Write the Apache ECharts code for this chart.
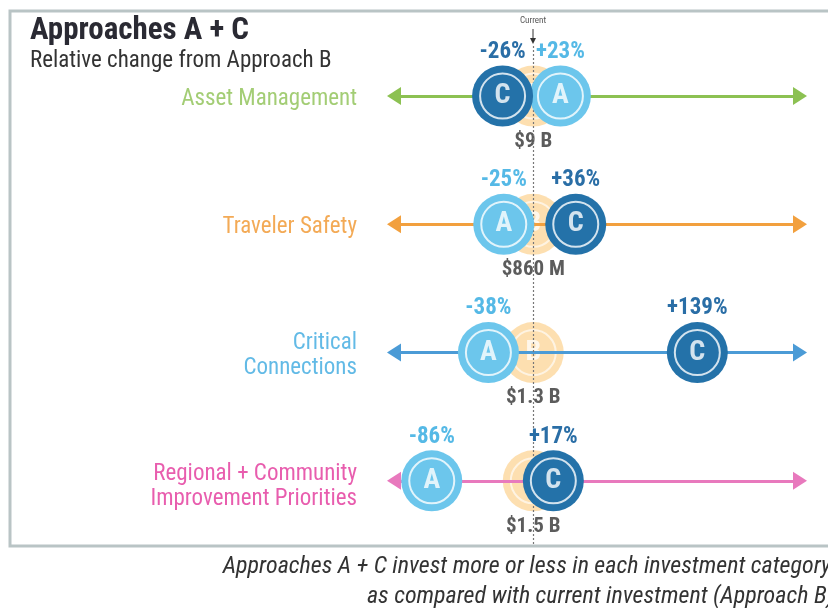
<!DOCTYPE html>
<html>
<head>
<meta charset="utf-8">
<script src="https://cdn.jsdelivr.net/npm/echarts@6/dist/echarts.min.js"></script>
<style>
  html, body { margin: 0; padding: 0; background: #fff; }
  #chart { width: 828px; height: 608px; }
</style>
</head>
<body>
<div id="chart"></div>
<script>
const categories = ["Asset Management", "Traveler Safety", "Critical\nConnections", "Regional + Community\nImprovement Priorities"];
const catColors = ["#8cc152", "#f0952c", "#3ba9e0", "#e2359a"];
const lineColors = ["#8cc152", "#f2a03e", "#4b9bd6", "#e879bd"];
const changeA = [23, -25, -38, -86];
const changeC = [-26, 36, 139, 17];
const currentB = ["$9 B", "$860 M", "$1.3 B", "$1.5 B"];
const arrowRange = [-118, 226];

const font = "'Roboto Condensed', 'Liberation Sans Narrow', 'Arial Narrow', Roboto, sans-serif";
const colA = "#6cc6ec", colC = "#2472a9", colB = "#fcd496";

let chart = echarts.init(document.getElementById("chart"), null, { renderer: "canvas" });

const pct = v => (v > 0 ? "+" : "") + v + "%";

function circles(name, values, fill, letter, labelColor, z) {
  return [{
    type: "scatter", name, z,
    data: values.map((v, i) => [v, i]),
    symbolSize: 61,
    itemStyle: { color: fill, opacity: 1 },
    label: {
      show: true, position: "top", distance: 2,
      formatter: p => pct(p.value[0]),
      color: labelColor, fontFamily: font, fontSize: 23, fontWeight: "bold"
    },
    silent: true
  }, {
    type: "scatter", z: z + 1,
    data: values.map((v, i) => [v, i]),
    symbolSize: 45,
    itemStyle: { color: "transparent", borderColor: "#fff", borderWidth: 2 },
    label: {
      show: true, position: "inside", formatter: letter,
      color: "#fff", fontFamily: font, fontSize: 28, fontWeight: "bold"
    },
    silent: true
  }];
}

const option = {
  animation: false,
  title: {
    text: "Approaches A + C",
    subtext: "Relative change from Approach B",
    left: 25, top: 11, itemGap: 3,
    textStyle: { fontFamily: font, fontSize: 31, fontWeight: "bold", color: "#2a2a33" },
    subtextStyle: { fontFamily: font, fontSize: 23, color: "#333" }
  },
  grid: { left: 394, right: 28, top: 46, bottom: 63 },
  xAxis: { type: "value", min: arrowRange[0], max: arrowRange[1], show: false },
  yAxis: { type: "value", min: -0.39, max: 3.5, inverse: true, show: false },
  graphic: [
    { type: "rect", shape: { x: 10, y: 11, width: 840, height: 535 },
      style: { fill: null, stroke: "#b9c4c5", lineWidth: 3 }, z: 100 },
    { type: "text", x: 533, y: 21, style: { text: "Current", font: "9px " + font, fill: "#555", align: "center", verticalAlign: "middle" } },
    { type: "line", shape: { x1: 533, y1: 29, x2: 533, y2: 40 }, style: { stroke: "#333", lineWidth: 1 } },
    { type: "polygon", shape: { points: [[530, 38], [536, 38], [533, 44]] }, style: { fill: "#333" } },
    { type: "text", x: 834, y: 567, style: { text: "Approaches A + C invest more or less in each investment category,", font: "italic 24px " + font, fill: "#333", align: "right", verticalAlign: "middle" } },
    { type: "text", x: 834, y: 597, style: { text: "as compared with current investment (Approach B)", font: "italic 24px " + font, fill: "#333", align: "right", verticalAlign: "middle" } }
  ],
  series: [
    {
      type: "scatter", z: 1,
      data: categories.map((c, i) => ({
        value: [arrowRange[0], i], name: c,
        label: { color: catColors[i], offset: [0, i === 3 ? 6 : 3] }
      })),
      symbolSize: 0,
      label: {
        show: true, position: "left", distance: 37, formatter: p => p.name,
        fontFamily: font, fontSize: 23, lineHeight: 25, align: "right"
      },
      markLine: {
        silent: true,
        symbol: ["triangle", "triangle"],
        symbolSize: [18, 14],
        label: { show: false },
        data: categories.map((c, i) => [
          { coord: [arrowRange[0], i], lineStyle: { color: lineColors[i], width: 3, type: "solid" }, itemStyle: { color: lineColors[i] } },
          { coord: [arrowRange[1], i] }
        ])
      }
    },
    {
      type: "scatter", z: 2,
      data: categories.map((c, i) => [0, i]),
      symbolSize: 61,
      itemStyle: { color: colB, opacity: 0.75 },
      label: { show: true, position: "inside", formatter: "B", color: "#fff", fontFamily: font, fontSize: 28, fontWeight: "bold" },
      markLine: {
        silent: true, symbol: "none", label: { show: false },
        lineStyle: { color: "#777", type: [2, 2], width: 1.2 },
        data: [{ xAxis: 0 }]
      }
    },
    {
      type: "scatter", z: 3,
      data: categories.map((c, i) => [0, i]),
      symbolSize: 45,
      itemStyle: { color: "transparent", borderColor: "rgba(255,255,255,0.8)", borderWidth: 2 }
    },
    {
      type: "scatter", z: 4,
      data: currentB.map((v, i) => ({ value: [0, i], name: v })),
      symbolSize: 0,
      label: { show: true, position: "bottom", distance: 35, formatter: p => p.name, color: "#333", fontFamily: font, fontSize: 21, fontWeight: "bold" }
    },
    ...circles("A", changeA, colA, "A", "#55b9e6", 5),
    ...circles("C", changeC, colC, "C", "#2a6ea6", 7)
  ]
};

chart.setOption(option);
</script>
</body>
</html>
